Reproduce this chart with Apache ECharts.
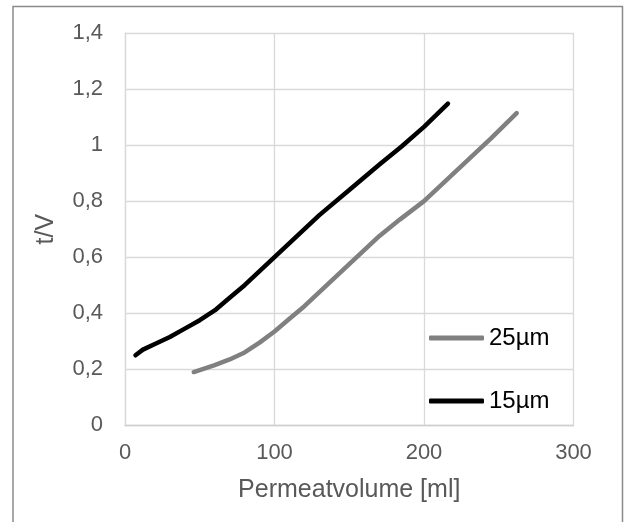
<!DOCTYPE html>
<html>
<head>
<meta charset="utf-8">
<script src="https://cdn.jsdelivr.net/npm/echarts@6/dist/echarts.min.js"></script>
<style>
html,body{margin:0;padding:0;background:#fff;}
#chart{width:626px;height:522px;}
</style>
</head>
<body>
<div id="chart"></div>
<script>
const seriesNames = ['25µm', '15µm'];
const xTicks = [0, 100, 200, 300];
const yTicks = [0, 0.2, 0.4, 0.6, 0.8, 1, 1.2, 1.4];

const x25 = [46, 60, 70, 80, 90, 100, 110, 120, 130, 140, 150, 160, 170, 184, 200, 215, 230, 245, 262];
const y25 = [0.19, 0.215, 0.235, 0.26, 0.295, 0.335, 0.38, 0.425, 0.475, 0.525, 0.575, 0.625, 0.675, 0.735, 0.80, 0.875, 0.95, 1.025, 1.114];

const x15 = [7, 12, 20, 30, 40, 50, 60, 70, 80, 90, 100, 115, 130, 150, 170, 185, 200, 216];
const y15 = [0.25, 0.27, 0.29, 0.315, 0.345, 0.375, 0.41, 0.455, 0.50, 0.55, 0.60, 0.675, 0.75, 0.84, 0.93, 0.995, 1.065, 1.148];

const zip = (xs, ys) => xs.map((x, i) => [x, ys[i]]);
const font = 'Arial, "Liberation Sans", sans-serif';

const chart = echarts.init(document.getElementById('chart'), null, {renderer: 'canvas'});
chart.setOption({
  backgroundColor: '#ffffff',
  animation: false,
  graphic: [{
    type: 'rect', silent: true, z: -1,
    shape: {x: 13, y: 6.5, width: 609.5, height: 540},
    style: {fill: 'none', stroke: '#8a8a8a', lineWidth: 1.5}
  }],
  grid: {left: 125, top: 33, width: 448.5, height: 392.3, containLabel: false},
  legend: {
    data: seriesNames,
    orient: 'vertical',
    left: 424, top: 321,
    icon: 'roundRect',
    itemWidth: 55, itemHeight: 5, itemGap: 39,
    textStyle: {fontFamily: font, fontSize: 24, color: '#000'}
  },
  xAxis: {
    type: 'value', min: xTicks[0], max: xTicks[xTicks.length - 1], interval: 100,
    name: 'Permeatvolume [ml]', nameLocation: 'middle', nameGap: 52,
    nameTextStyle: {fontFamily: font, fontSize: 25, color: '#595959'},
    axisLine: {show: true, lineStyle: {color: '#cfcfcf', width: 1.3}},
    axisTick: {show: false},
    axisLabel: {margin: 17, fontFamily: font, fontSize: 22, color: '#595959'},
    splitLine: {show: true, lineStyle: {color: '#d9d9d9', width: 1.3}}
  },
  yAxis: {
    type: 'value', min: yTicks[0], max: yTicks[yTicks.length - 1], interval: 0.2,
    name: 't/V', nameLocation: 'middle', nameGap: 66,
    nameTextStyle: {fontFamily: font, fontSize: 25, color: '#595959'},
    axisLine: {show: true, lineStyle: {color: '#d9d9d9', width: 1.3}},
    axisTick: {show: false},
    axisLabel: {
      margin: 22, fontFamily: font, fontSize: 22, color: '#595959',
      formatter: v => String(Math.round(v * 10) / 10).replace('.', ',')
    },
    splitLine: {show: true, lineStyle: {color: '#d9d9d9', width: 1.3}}
  },
  series: [
    {
      name: seriesNames[0], type: 'line', data: zip(x25, y25),
      symbol: 'none', showSymbol: false,
      lineStyle: {color: '#808080', width: 4.5, cap: 'round', join: 'round'},
      itemStyle: {color: '#808080'}
    },
    {
      name: seriesNames[1], type: 'line', data: zip(x15, y15),
      symbol: 'none', showSymbol: false,
      lineStyle: {color: '#000000', width: 4.5, cap: 'round', join: 'round'},
      itemStyle: {color: '#000000'}
    }
  ]
});
</script>
</body>
</html>
